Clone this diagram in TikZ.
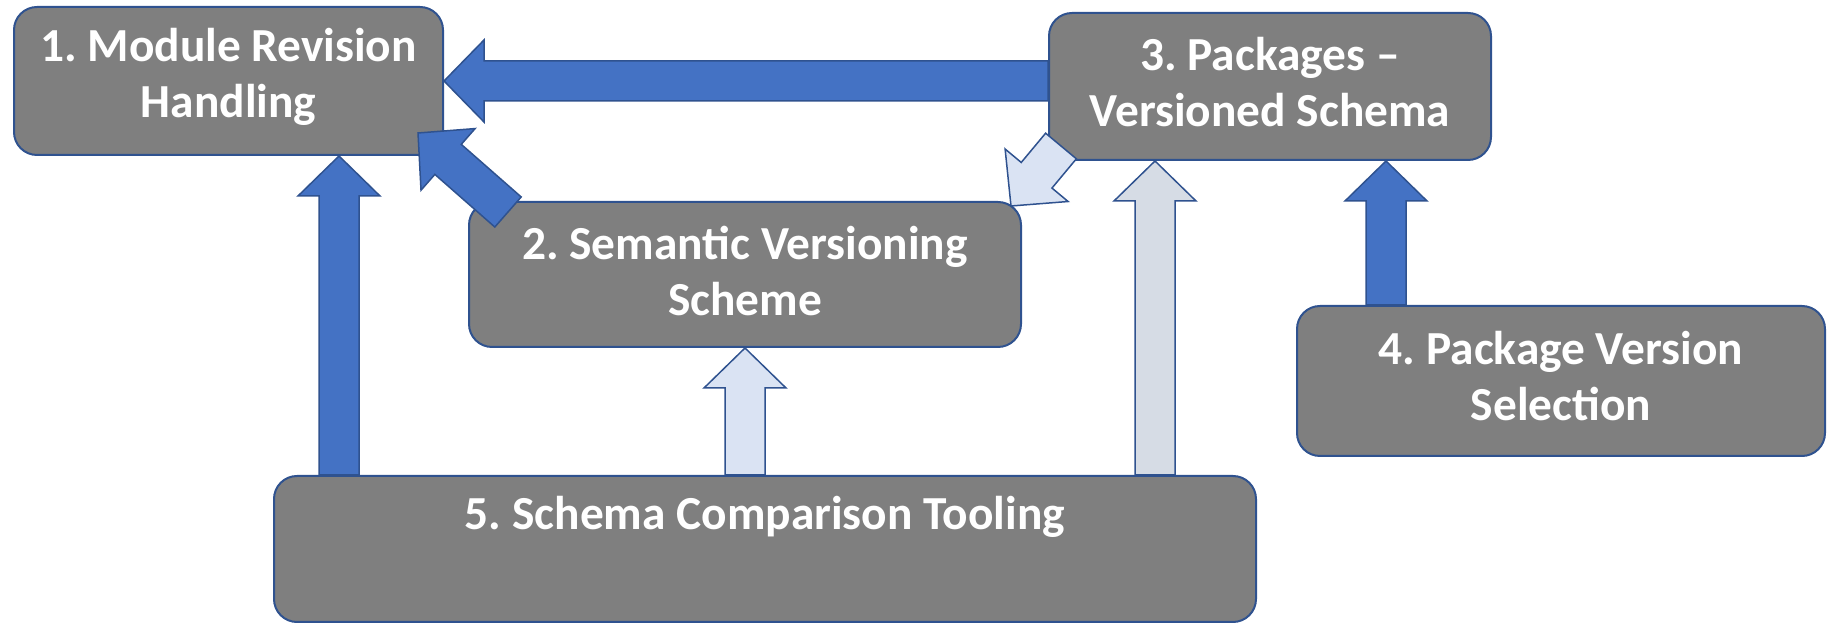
\documentclass[tikz,border=0pt]{standalone}
\usepackage{fontspec}
\setmainfont{Carlito}
\usetikzlibrary{calc}
\frenchspacing

\newlength{\du}
\setlength{\du}{0.5pt}

\definecolor{boxfill}{HTML}{7F7F7F}
\definecolor{boxline}{HTML}{2F528F}
\definecolor{arrowblue}{HTML}{4472C4}
\definecolor{arrowpale}{HTML}{DAE3F3}
\definecolor{arrowgrey}{HTML}{D6DCE5}

\tikzset{
  stagebox/.style={draw=boxline, fill=boxfill, line width=2\du,
    rounded corners=23\du, inner sep=0pt},
  stagetext/.style={text=white, align=center, inner sep=0pt,
    font=\fontsize{23.7}{28}\selectfont\bfseries},
  blockline/.style={draw=boxline, line width=1.5\du, line join=miter}
}

% block arrow: fill colour, from, to
\newcommand{\blockarrow}[3]{%
\coordinate (hb) at ($(#3)!40\du!(#2)$);
\filldraw[blockline, fill=#1]
  ($(#2)!20\du!90:(#3)$) -- ($(hb)!20\du!90:(#3)$) -- ($(hb)!41\du!90:(#3)$) -- (#3)
  -- ($(hb)!41\du!-90:(#3)$) -- ($(hb)!20\du!-90:(#3)$) -- ($(#2)!20\du!-90:(#3)$) -- cycle;
}

\begin{document}
\begin{tikzpicture}
\pgftransformxscale{1.000000}
\pgftransformyscale{-1.000000}
\useasboundingbox (0\du,0\du) rectangle (1827\du,624\du);
% boxes
\node[stagebox, minimum width=429\du, minimum height=148\du] (rev) at (228.5\du,81\du) {};
\node[stagebox, minimum width=442\du, minimum height=147\du] (pkg) at (1270\du,86.5\du) {};
\node[stagebox, minimum width=552\du, minimum height=145\du] (sem) at (745\du,274.5\du) {};
\node[stagebox, minimum width=528\du, minimum height=150\du] (sel) at (1561\du,381\du) {};
\node[stagebox, minimum width=982\du, minimum height=146\du] (cmp) at (765\du,549\du) {};
% arrow ends
\coordinate (b-tip) at ($(rev.south east)+(-26\du,-23\du)$);
\coordinate (b-end) at ($(sem.north west)+(40\du,11\du)$);
\coordinate (c-end) at ($(pkg.south west)+(13\du,-15\du)$);
\coordinate (c-tip) at ($(sem.north east)+(-11\du,5\du)$);
\coordinate (d-tip) at ($(pkg.south west)+(107\du,0\du)$);
\coordinate (e-tip) at ($(pkg.south east)+(-106\du,0\du)$);
\coordinate (f-tip) at ($(rev.south)+(110.5\du,0\du)$);
% arrows
\blockarrow{arrowblue}{rev.east -| pkg.west}{rev.east}
\blockarrow{arrowblue}{b-end}{b-tip}
\blockarrow{arrowpale}{c-end}{c-tip}
\blockarrow{arrowgrey}{d-tip |- cmp.north}{d-tip}
\blockarrow{arrowblue}{e-tip |- sel.north}{e-tip}
\blockarrow{arrowblue}{f-tip |- cmp.north}{f-tip}
\blockarrow{arrowpale}{sem.south |- cmp.north}{sem.south}
% texts
\node[stagetext] (rev-text) at ($(rev.center)+(0,-4\du)$) {1. Module Revision\\Handling};
\node[stagetext] (sem-text) at ($(sem.center)+(0,-3\du)$) {2. Semantic Versioning\\Scheme};
\node[stagetext] (pkg-text) at ($(pkg.center)+(0,-4\du)$) {3. Packages --\\Versioned Schema};
\node[stagetext] (sel-text) at ($(sel.center)+(0,-5\du)$) {4. Package Version\\Selection};
\node[stagetext] (cmp-text) at ($(cmp.north)+(0,42\du)$) {5. Schema Comparison Tooling};
\end{tikzpicture}
\end{document}
